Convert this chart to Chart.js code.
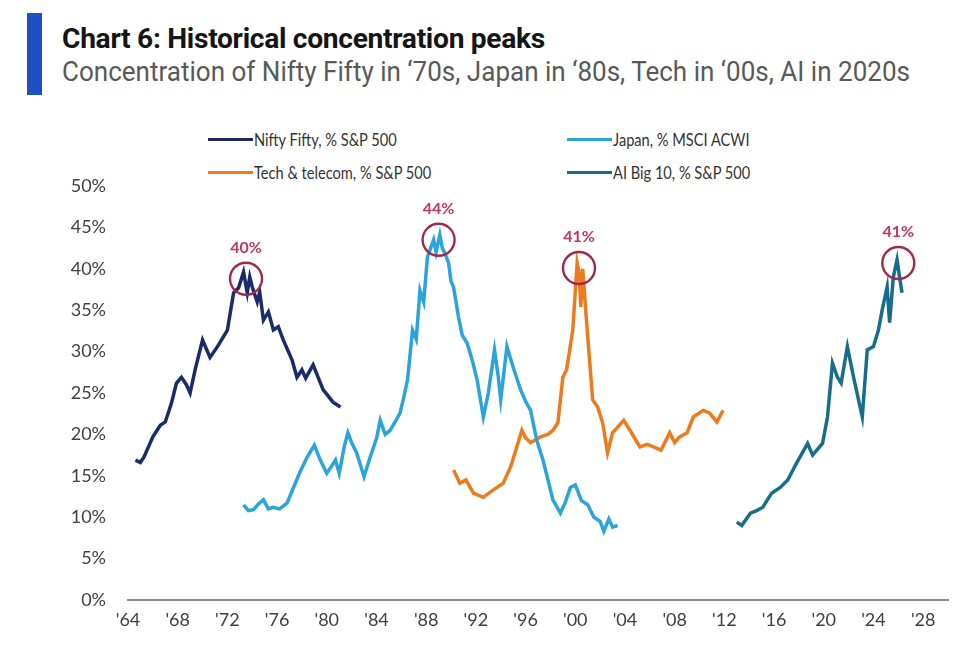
<!DOCTYPE html>
<html>
<head>
<meta charset="utf-8">
<script src="https://cdn.jsdelivr.net/npm/chart.js@4.4.1/dist/chart.umd.min.js"></script>
<style>
    html, body { margin: 0; padding: 0; background: #fff; }
    #wrap { position: relative; width: 960px; height: 657px; overflow: hidden; }
    #bar { position: absolute; left: 27px; top: 13px; width: 15px; height: 82px; background: #1f4fc4; }
    .txt { position: absolute; left: 62px; white-space: nowrap; transform-origin: 0 0; font-family: Roboto, "Open Sans", sans-serif; }
    #title { top: 22px; font-size: 28px; font-weight: bold; color: #151515; letter-spacing: -0.3px; }
    #subtitle { top: 56px; font-size: 27px; color: #595959; }
    .leg { position: absolute; height: 20px; display: flex; align-items: center; font-family: Lato, "Open Sans", sans-serif; font-size: 17px; color: #333; white-space: nowrap; }
    .leg span.sw { display: inline-block; width: 45px; height: 3px; margin-right: 1px; flex: none; }
    .leg span.lt { display: inline-block; transform: scaleX(0.86); transform-origin: 0 50%; }
    canvas { position: absolute; left: 0; top: 0; }
</style>
</head>
<body>
<div id="wrap">
    <div id="bar"></div>
    <div id="title" class="txt">Chart 6: Historical concentration peaks</div>
    <div id="subtitle" class="txt">Concentration of Nifty Fifty in ‘70s, Japan in ‘80s, Tech in ‘00s, AI in 2020s</div>
    <div id="legend"></div>
    <canvas id="chart" width="960" height="657"></canvas>
</div>
<script>
// values: [year, % share]
const niftyFifty = [
    [1964.6, 16.9], [1965.0, 16.6], [1965.3, 17.3], [1966.0, 19.7], [1966.6, 21.1], [1967.0, 21.5],
    [1967.5, 23.8], [1967.9, 26.2], [1968.3, 26.9], [1968.7, 26.0], [1969.0, 25.0], [1969.4, 27.8],
    [1970.0, 31.4], [1970.6, 29.3], [1971.2, 30.6], [1972.0, 32.6], [1972.5, 37.1], [1972.9, 37.7],
    [1973.3, 39.6], [1973.6, 37.1], [1973.8, 39.0], [1974.0, 37.8], [1974.4, 36.0], [1974.6, 37.2],
    [1974.9, 33.8], [1975.3, 34.8], [1975.7, 32.6], [1976.1, 33.0], [1976.5, 31.4], [1977.2, 29.0],
    [1977.6, 26.9], [1978.0, 27.8], [1978.3, 26.8], [1978.9, 28.4], [1979.7, 25.4], [1980.5, 23.9],
    [1981.1, 23.3]
];

const japan = [
    [1973.3, 11.5], [1973.7, 10.8], [1974.1, 10.9], [1974.5, 11.6], [1974.9, 12.1], [1975.3, 11.0],
    [1975.7, 11.2], [1976.2, 11.0], [1976.8, 11.7], [1977.3, 13.5], [1977.8, 15.3], [1978.4, 17.2],
    [1979.0, 18.7], [1979.5, 16.8], [1980.0, 15.3], [1980.4, 16.2], [1980.7, 16.9], [1981.0, 15.3],
    [1981.4, 18.5], [1981.7, 20.2], [1982.0, 19.0], [1982.4, 17.8], [1983.0, 14.9], [1983.5, 17.3],
    [1984.0, 19.5], [1984.3, 21.7], [1984.7, 20.0], [1985.1, 20.5], [1985.5, 21.5], [1985.9, 22.6],
    [1986.2, 24.5], [1986.5, 26.6], [1986.9, 32.6], [1987.2, 31.5], [1987.5, 37.4], [1987.8, 36.0],
    [1988.1, 41.4], [1988.6, 43.5], [1988.8, 42.0], [1989.1, 44.1], [1989.3, 42.5], [1989.5, 41.9],
    [1989.8, 40.7], [1990.0, 38.5], [1990.2, 37.8], [1990.6, 34.2], [1990.9, 32.0], [1991.3, 31.0],
    [1991.7, 29.0], [1992.1, 26.6], [1992.6, 22.1], [1993.0, 25.0], [1993.5, 30.2], [1993.8, 27.0],
    [1994.0, 24.2], [1994.5, 30.6], [1995.0, 28.1], [1995.6, 25.4], [1996.0, 24.0], [1996.4, 22.9],
    [1996.9, 19.3], [1997.4, 16.9], [1997.8, 14.5], [1998.2, 12.1], [1998.8, 10.5], [1999.2, 11.8],
    [1999.6, 13.6], [2000.0, 13.9], [2000.5, 12.0], [2001.0, 11.5], [2001.5, 10.0], [2002.0, 9.5],
    [2002.3, 8.3], [2002.7, 9.8], [2003.0, 8.8], [2003.4, 9.0]
];

const techTelecom = [
    [1990.2, 15.7], [1990.5, 14.8], [1990.7, 14.1], [1991.2, 14.5], [1991.8, 12.9], [1992.6, 12.4],
    [1993.4, 13.3], [1994.2, 14.1], [1994.8, 16.1], [1995.3, 18.5], [1995.7, 20.5], [1996.0, 19.6],
    [1996.4, 19.0], [1997.2, 19.7], [1997.8, 20.0], [1998.2, 20.5], [1998.6, 21.4], [1999.0, 26.9],
    [1999.3, 27.8], [1999.8, 32.6], [2000.15, 40.7], [2000.3, 39.6], [2000.45, 35.4], [2000.6, 40.0],
    [2000.9, 33.8], [2001.4, 24.2], [2001.8, 23.3], [2002.2, 21.4], [2002.6, 17.8], [2003.0, 20.2],
    [2003.9, 21.7], [2004.4, 20.5], [2005.2, 18.5], [2005.8, 18.8], [2006.3, 18.5], [2006.9, 18.1],
    [2007.6, 20.2], [2008.0, 19.0], [2008.4, 19.7], [2009.0, 20.2], [2009.5, 22.1], [2010.3, 22.9],
    [2010.8, 22.6], [2011.4, 21.5], [2011.9, 22.9]
];

const aiBig10 = [
    [2013.0, 9.4], [2013.4, 9.0], [2014.1, 10.5], [2014.6, 10.8], [2015.1, 11.2], [2015.8, 12.9],
    [2016.5, 13.6], [2017.1, 14.5], [2017.8, 16.5], [2018.7, 18.9], [2019.1, 17.5], [2019.9, 18.9],
    [2020.3, 22.1], [2020.7, 28.6], [2021.1, 26.9], [2021.4, 26.2], [2021.9, 30.6], [2022.4, 26.9],
    [2023.1, 22.1], [2023.5, 30.2], [2024.0, 30.6], [2024.4, 32.6], [2024.7, 35.0], [2025.1, 37.8],
    [2025.3, 33.5], [2025.6, 39.0], [2025.9, 41.1], [2026.1, 39.0], [2026.3, 37.1]
];

const seriesLabels = ['Nifty Fifty, % S&P 500', 'Japan, % MSCI ACWI', 'Tech & telecom, % S&P 500', 'AI Big 10, % S&P 500'];
const seriesColors = ['#1b2a6b', '#2ba3dc', '#ee7a1e', '#176e8a'];

// circled peaks
const peakYears = [1973.5, 1989.0, 2000.3, 2026.0];
const peakValues = [38.8, 43.5, 40.1, 40.7];
const peakLabels = ['40%', '44%', '41%', '41%'];

const yTicks = [0, 5, 10, 15, 20, 25, 30, 35, 40, 45, 50];
const xTickYears = [1964, 1968, 1972, 1976, 1980, 1984, 1988, 1992, 1996, 2000, 2004, 2008, 2012, 2016, 2020, 2024, 2028];

// squeeze title text to the condensed width of the original
function fitWidth(id, target) {
    const el = document.getElementById(id);
    el.style.display = 'inline-block';
    const w = el.getBoundingClientRect().width;
    el.style.transform = 'scaleX(' + (target / w) + ')';
}
fitWidth('title', 483);
fitWidth('subtitle', 848);

// legend, 2 x 2 grid
const legendPos = [[208, 129], [567, 129], [208, 162], [567, 162]];
const legend = document.getElementById('legend');
[0, 1, 2, 3].forEach(i => {
    const item = document.createElement('div');
    item.className = 'leg';
    item.style.left = legendPos[i][0] + 'px';
    item.style.top = legendPos[i][1] + 'px';
    item.innerHTML = '<span class="sw" style="background:' + seriesColors[i] + '"></span><span class="lt">' + seriesLabels[i].replace(/&/g, '&amp;') + '</span>';
    legend.appendChild(item);
});

const peakPlugin = {
    id: 'peaks',
    afterDatasetsDraw(chart) {
        const { ctx, scales: { x, y } } = chart;
        peakYears.forEach((yr, i) => {
            const cx = x.getPixelForValue(yr);
            const cy = y.getPixelForValue(peakValues[i]);
            ctx.save();
            ctx.beginPath();
            ctx.arc(cx, cy, 16, 0, Math.PI * 2);
            ctx.strokeStyle = '#a3284a';
            ctx.lineWidth = 2.4;
            ctx.stroke();
            ctx.fillStyle = '#c4365e';
            ctx.font = 'bold 16px Lato, "Open Sans", sans-serif';
            ctx.textAlign = 'center';
            ctx.textBaseline = 'middle';
            ctx.fillText(peakLabels[i], cx, cy - 31);
            ctx.restore();
        });
    }
};

const allSeries = [niftyFifty, japan, techTelecom, aiBig10];

new Chart(document.getElementById('chart'), {
    type: 'line',
    data: {
        datasets: allSeries.map((s, i) => ({
            label: seriesLabels[i],
            data: s.map(p => ({ x: p[0], y: p[1] })),
            borderColor: seriesColors[i],
            borderWidth: 3.5,
            pointRadius: 0,
            tension: 0,
            fill: false
        }))
    },
    options: {
        responsive: false,
        animation: false,
        layout: { padding: { left: 0, right: 12, top: 186, bottom: 0 } },
        plugins: {
            legend: { display: false },
            tooltip: { enabled: false }
        },
        scales: {
            x: {
                type: 'linear',
                min: 1964,
                max: 2030,
                grid: { display: false, drawTicks: false },
                border: { display: true, color: '#8a8a8a', width: 2 },
                afterFit: function(scale) { scale.height = 57; },
                afterBuildTicks: function(scale) {
                    scale.ticks = xTickYears.map(v => ({ value: v }));
                },
                ticks: {
                    autoSkip: false,
                    maxRotation: 0,
                    padding: 9,
                    color: '#404040',
                    font: { family: 'Lato, "Open Sans", sans-serif', size: 18 },
                    callback: function(value) {
                        return "'" + String(value).slice(2);
                    }
                }
            },
            y: {
                min: 0,
                max: 50,
                grid: { display: false, drawTicks: false },
                border: { display: false },
                afterFit: function(scale) { scale.width = 128; },
                afterBuildTicks: function(scale) {
                    scale.ticks = yTicks.map(v => ({ value: v }));
                },
                ticks: {
                    padding: 22,
                    color: '#404040',
                    font: { family: 'Lato, "Open Sans", sans-serif', size: 18 },
                    callback: function(value) { return value + '%'; }
                }
            }
        }
    },
    plugins: [peakPlugin]
});
</script>
</body>
</html>
